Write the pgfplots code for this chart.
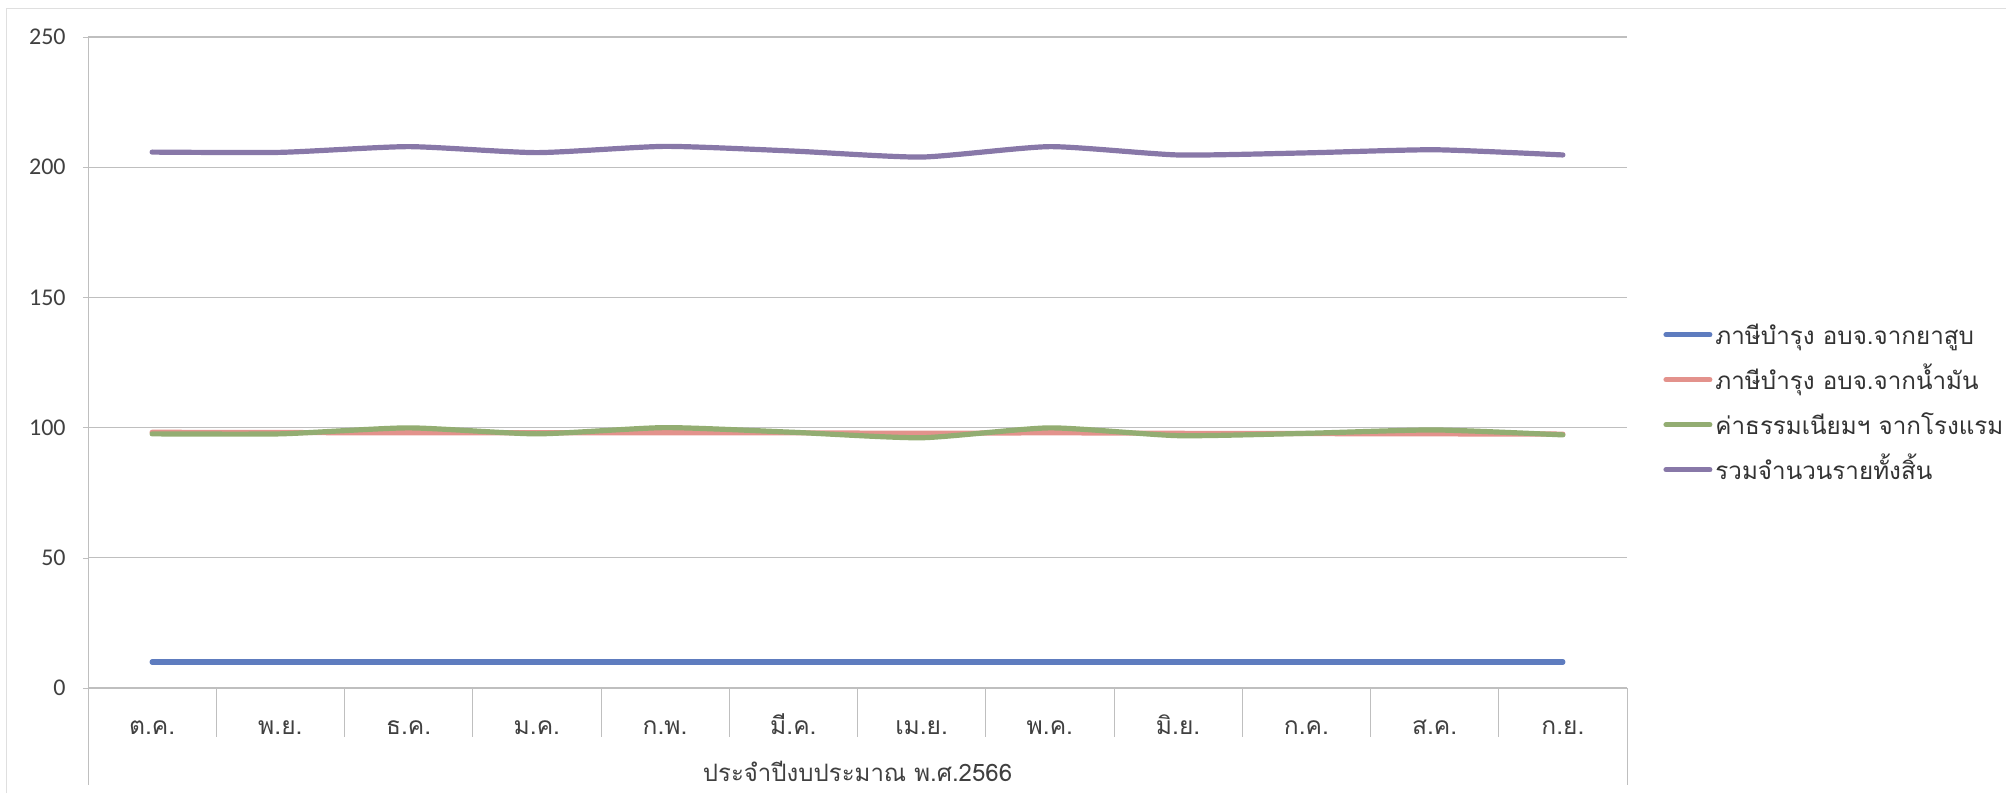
\documentclass[border=0pt]{standalone}
\usepackage{pgfplots}
\usepackage{pgfplotstable}
\pgfplotsset{compat=1.18}
\usepackage{fontspec}
\setmainfont{Carlito}
\newfontfamily\thaifont[Script=Thai]{Loma}
\definecolor{cblue}{HTML}{5E7CBF}
\definecolor{cred}{HTML}{E3928C}
\definecolor{cgreen}{HTML}{93AD72}
\definecolor{cpurple}{HTML}{8878A8}
\definecolor{txt}{HTML}{404040}
\definecolor{gridc}{HTML}{BFBFBF}

\pgfplotstableread{
x blue red green purple
0 10 98.2 97.6 205.8
1 10 98.1 97.6 205.7
2 10 98.0 99.9 207.9
3 10 98.0 97.6 205.6
4 10 98.0 100.0 208.0
5 10 98.0 98.2 206.2
6 10 97.8 96.1 203.9
7 10 98.0 99.9 207.9
8 10 97.8 96.9 204.7
9 10 97.7 97.8 205.5
10 10 97.6 99.1 206.7
11 10 97.5 97.2 204.7
}\datatable

\begin{document}
\fontsize{12}{14}\selectfont
\begin{tikzpicture}
\useasboundingbox (-44pt,-52.5pt) rectangle (959pt,344pt);
\draw[gray!25] (-41pt,-52.5pt) -- (-41pt,340pt) -- (959pt,340pt);
\begin{axis}[
  name=ax,
  at={(0,0)}, anchor=south west,
  scale only axis, width=769.5pt, height=325.5pt,
  xmin=-0.5, xmax=11.5, ymin=0, ymax=250,
  axis x line*=bottom, axis y line*=left,
  axis line style={gridc},
  ytick={0,50,...,250},
  ymajorgrids, major grid style={gridc, line width=0.6pt},
  ytick style={gridc}, tick align=outside, major tick length=2.5pt,
  xtick={0,...,11},
  xtick style={draw=none},
  xticklabels={ต.ค., พ.ย., ธ.ค., ม.ค., ก.พ., มี.ค., เม.ย., พ.ค., มิ.ย., ก.ค., ส.ค., ก.ย.},
  x tick label style={font=\thaifont\fontsize{12.3}{14}\selectfont, text=txt, anchor=base, yshift=-20.5pt, inner sep=0pt},
  y tick label style={font=\fontsize{12}{14}\selectfont, text=txt, anchor=east, inner sep=0pt, xshift=-8.5pt},
  /pgf/number format/assume math mode=true,
  xlabel={ประจำปีงบประมาณ พ.ศ.2566},
  xlabel style={font=\thaifont\fontsize{12}{14}\selectfont, text=txt, at={(axis description cs:0.5,0)}, anchor=base, yshift=-46.5pt, inner sep=0pt},
  every axis plot/.append style={line width=2.6pt, smooth, tension=0.35, line cap=round, line join=round, no markers},
  legend style={at={(axis description cs:1.0234,0.439)}, anchor=west, draw=none, fill=none, inner sep=0pt, row sep=0pt,
    font=\thaifont\fontsize{12.1}{14}\selectfont,
    nodes={inner xsep=1.5pt, inner ysep=0pt, text height=16pt, text depth=6.5pt, text=txt!80!black},
    cells={anchor=west}},
  legend image code/.code={\draw[#1, line width=2.5pt, line cap=round] (1pt,0pt) -- (23pt,0pt);},
]
\addplot[cblue] table[x=x, y=blue] {\datatable};
\addlegendentry{ภาษีบำรุง อบจ.จากยาสูบ}
\addplot[cred] table[x=x, y=red] {\datatable};
\addlegendentry{ภาษีบำรุง อบจ.จากน้ำมัน}
\addplot[cgreen] table[x=x, y=green] {\datatable};
\addlegendentry{ค่าธรรมเนียมฯ จากโรงแรม}
\addplot[cpurple] table[x=x, y=purple] {\datatable};
\addlegendentry{รวมจำนวนรายทั้งสิ้น}
\end{axis}
\foreach \i in {1,...,11} {\draw[gridc] (\i*64.125pt,0pt) -- (\i*64.125pt,-24.5pt);}
\draw[gridc] (0pt,0pt) -- (0pt,-48.5pt);
\draw[gridc] (769.5pt,0pt) -- (769.5pt,-48.5pt);
\end{tikzpicture}
\end{document}
